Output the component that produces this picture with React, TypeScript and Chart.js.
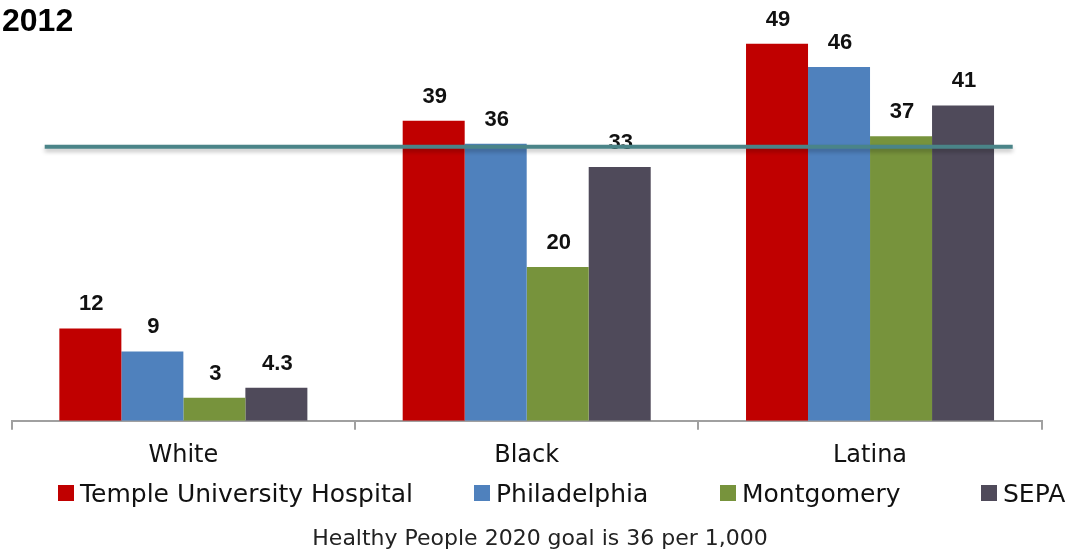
import React, { useEffect, useRef } from "react";
import { Chart, registerables } from "chart.js";

Chart.register(...registerables);

const CATEGORIES = ["White", "Black", "Latina"];
const SERIES_NAMES = ["Temple University Hospital", "Philadelphia", "Montgomery", "SEPA"];
const TEMPLE = [12, 39, 49];
const PHILADELPHIA = [9, 36, 46];
const MONTGOMERY = [3, 20, 37];
const SEPA = [4.3, 33, 41];
const GOAL = 36;
const TITLE = "2012";
const NOTE = "Healthy People 2020 goal is 36 per 1,000";

const COLORS = ["#C00000", "#4F81BD", "#77933C", "#4F4A5A"];
const LEGEND_X = [58, 474, 720, 981];

const overlay = {
  id: "overlay",
  afterDatasetsDraw(chart: any) {
    const ctx = chart.ctx;
    const { left, right } = chart.chartArea;
    chart.data.datasets.forEach((ds: any, i: number) => {
      const meta = chart.getDatasetMeta(i);
      meta.data.forEach((bar: any, j: number) => {
        ctx.save();
        ctx.font = 'bold 22px "Liberation Sans", Arial, sans-serif';
        ctx.fillStyle = "#111";
        ctx.textAlign = "center";
        ctx.textBaseline = "alphabetic";
        ctx.fillText(String(ds.data[j]), bar.x + 1, bar.y - 18);
        ctx.restore();
      });
    });
    const y = chart.scales.y.getPixelForValue(GOAL) + 3;
    ctx.save();
    ctx.strokeStyle = "#4A8488";
    ctx.lineWidth = 4;
    ctx.shadowColor = "rgba(0,0,0,0.25)";
    ctx.shadowBlur = 4;
    ctx.shadowOffsetY = 3;
    ctx.beginPath();
    ctx.moveTo(left + 33, y);
    ctx.lineTo(right - 29, y);
    ctx.stroke();
    ctx.restore();
  },
  afterDraw(chart: any) {
    const ctx = chart.ctx;
    ctx.save();
    ctx.fillStyle = "#000";
    ctx.font = 'bold 32px "Liberation Sans", Arial, sans-serif';
    ctx.textAlign = "left";
    ctx.textBaseline = "alphabetic";
    ctx.fillText(TITLE, 2, 31);

    ctx.font = '25px "DejaVu Sans", sans-serif';
    SERIES_NAMES.forEach((name, i) => {
      const x = LEGEND_X[i];
      ctx.fillStyle = COLORS[i];
      ctx.fillRect(x, 485, 16, 16);
      ctx.fillStyle = "#111";
      ctx.fillText(name, x + 22, 502);
    });

    ctx.font = '22px "DejaVu Sans", sans-serif';
    ctx.textAlign = "center";
    ctx.fillStyle = "#222";
    ctx.fillText(NOTE, 540, 545);
    ctx.restore();
  },
};

export default function App() {
  const ref = useRef<HTMLCanvasElement>(null);
  useEffect(() => {
    if (!ref.current) return;
    const series = [TEMPLE, PHILADELPHIA, MONTGOMERY, SEPA];
    const chart = new Chart(ref.current, {
      type: "bar",
      data: {
        labels: CATEGORIES,
        datasets: series.map((d, i) => ({
          label: SERIES_NAMES[i],
          data: d,
          backgroundColor: COLORS[i],
          borderWidth: 0,
          categoryPercentage: 0.7224,
          barPercentage: 1,
        })),
      },
      options: {
        responsive: false,
        animation: false,
        devicePixelRatio: 1,
        layout: { padding: { left: 11.7, right: 26.3, top: 5.4, bottom: 67.5 } },
        plugins: {
          legend: { display: false },
          tooltip: { enabled: false },
          title: { display: false },
        },
        scales: {
          x: {
            grid: {
              display: true,
              drawOnChartArea: false,
              drawTicks: true,
              tickLength: 9,
              color: "#A0A0A0",
              lineWidth: 2,
              offset: true,
            },
            border: { display: true, color: "#A0A0A0", width: 2 },
            ticks: {
              padding: 12,
              color: "#111",
              font: { family: '"DejaVu Sans", sans-serif', size: 24 },
            },
          },
          y: {
            display: false,
            min: 0,
            max: 54,
          },
        },
      },
      plugins: [overlay],
    });
    return () => chart.destroy();
  }, []);
  return (
    <div style={{ position: "fixed", left: 0, top: 0, width: 1068, height: 550, background: "#fff" }}>
      <canvas ref={ref} width={1068} height={550} />
    </div>
  );
}
